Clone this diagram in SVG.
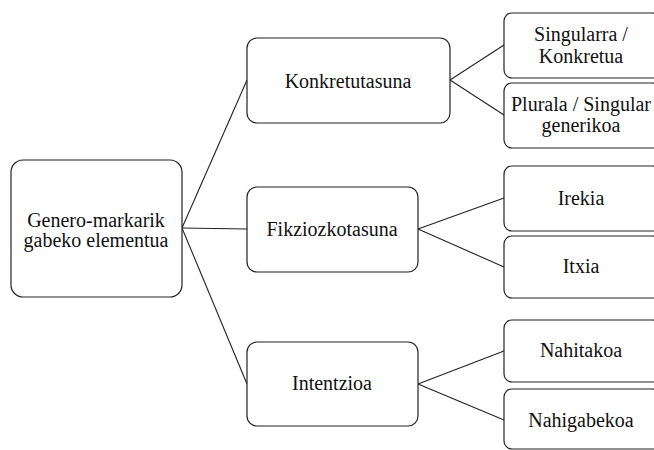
<svg xmlns="http://www.w3.org/2000/svg" width="654" height="450" viewBox="0 0 654 450">
<style>
.box{fill:#fff;stroke:#222;stroke-width:1.2}
.t{font-size:20px;fill:#111;text-anchor:middle}
.c{stroke:#222;stroke-width:1.1;fill:none}
</style>
<rect width="654" height="450" fill="#fff"/>
<g id="connectors">
<line class="c" x1="182" y1="228" x2="247" y2="80"/>
<line class="c" x1="182" y1="228" x2="247" y2="229"/>
<line class="c" x1="182" y1="228" x2="247" y2="384"/>
<line class="c" x1="450" y1="80" x2="504" y2="45"/>
<line class="c" x1="450" y1="80" x2="504" y2="115"/>
<line class="c" x1="418" y1="229" x2="504" y2="198"/>
<line class="c" x1="418" y1="229" x2="504" y2="267"/>
<line class="c" x1="418" y1="384" x2="504" y2="351"/>
<line class="c" x1="418" y1="384" x2="504" y2="420"/>
</g>
<g id="root">
<rect class="box" x="11" y="160" width="171" height="137" rx="12"/>
<text class="t" x="96" y="227" font-family="serif">Genero-markarik</text>
<text class="t" x="96" y="247" font-family="serif">gabeko elementua</text>
</g>
<g id="konkretutasuna">
<rect class="box" x="247" y="38" width="203" height="85" rx="10"/>
<text class="t" x="348" y="88" font-family="serif">Konkretutasuna</text>
</g>
<g id="fikziozkotasuna">
<rect class="box" x="247" y="187" width="171" height="85" rx="10"/>
<text class="t" x="332" y="236" font-family="serif">Fikziozkotasuna</text>
</g>
<g id="intentzioa">
<rect class="box" x="247" y="342" width="171" height="84" rx="10"/>
<text class="t" x="332" y="390" font-family="serif">Intentzioa</text>
</g>
<g id="singularra">
<rect class="box" x="504" y="13" width="156" height="65" rx="8"/>
<text class="t" x="581" y="41" font-family="serif">Singularra /</text>
<text class="t" x="581" y="63" font-family="serif">Konkretua</text>
</g>
<g id="plurala">
<rect class="box" x="504" y="83" width="156" height="65" rx="8"/>
<text class="t" x="581" y="111" font-family="serif">Plurala / Singular</text>
<text class="t" x="581" y="132" font-family="serif">generikoa</text>
</g>
<g id="irekia">
<rect class="box" x="504" y="166" width="156" height="65" rx="8"/>
<text class="t" x="581" y="205" font-family="serif">Irekia</text>
</g>
<g id="itxia">
<rect class="box" x="504" y="236" width="156" height="62" rx="8"/>
<text class="t" x="581" y="273" font-family="serif">Itxia</text>
</g>
<g id="nahitakoa">
<rect class="box" x="504" y="320" width="156" height="62" rx="8"/>
<text class="t" x="581" y="357" font-family="serif">Nahitakoa</text>
</g>
<g id="nahigabekoa">
<rect class="box" x="504" y="389" width="156" height="60" rx="8"/>
<text class="t" x="581" y="427" font-family="serif">Nahigabekoa</text>
</g>
</svg>
